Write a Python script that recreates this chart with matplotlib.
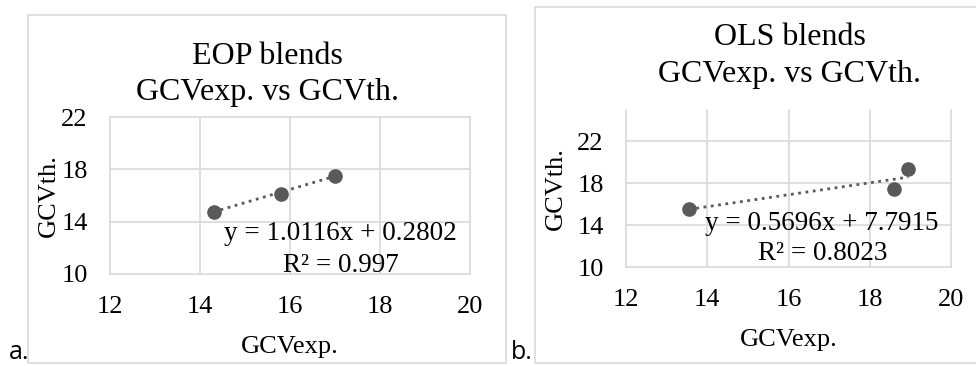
import numpy as np
import matplotlib
matplotlib.use('Agg')
import matplotlib.pyplot as plt
from matplotlib.patches import Rectangle

plt.rcParams['font.family'] = 'Liberation Serif'

W, H = 976, 366

# data
eop_exp = [14.3, 15.8, 17.0]
eop_th = [14.75, 16.15, 17.5]
eop_fit = [1.0116, 0.2802]
eop_r2 = '0.997'

ols_exp = [13.55, 18.6, 18.95]
ols_th = [15.55, 17.45, 19.35]
ols_fit = [0.5696, 7.7915]
ols_r2 = '0.8023'

x_ticks = [12, 14, 16, 18, 20]
y_ticks = [10, 14, 18, 22]

grey = '#595959'
grid = '#d9d9d9'

fig = plt.figure(figsize=(W / 100, H / 100), dpi=100)


def px(x, y, w=0, h=0):
    # pixel box (top-left origin) -> figure fraction
    return [x / W, 1 - (y + h) / H, w / W, h / H]


def panel(box, ylim, xs, ys, fit, r2, eq_xy, eq_gap, ylpad):
    ax = fig.add_axes(px(*box))
    ax.set_xlim(12, 20)
    ax.set_ylim(*ylim)
    ax.set_xticks(x_ticks)
    ax.set_yticks(y_ticks)
    ax.grid(True, color=grid, lw=1.2)
    ax.set_axisbelow(True)
    for s in ax.spines.values():
        s.set_visible(False)
    ax.tick_params(length=0, labelsize=19, pad=16)
    ax.set_xlabel('GCVexp.', fontsize=19, labelpad=13)
    ax.set_ylabel('GCVth.', fontsize=19, labelpad=ylpad)
    xl = np.array([min(xs), max(xs)])
    ax.plot(xl, fit[0] * xl + fit[1], ':', color=grey, lw=2)
    ax.plot(xs, ys, 'o', color=grey, ms=9.5, zorder=3)
    for g in ax.get_xgridlines() + ax.get_ygridlines():
        g.set_clip_on(False)
    step = eq_gap * (ylim[1] - ylim[0]) / box[3]
    ax.text(eq_xy[0], eq_xy[1], 'y = {0}x + {1}'.format(fit[0], fit[1]),
            fontsize=19.5, ha='center', va='baseline')
    ax.text(eq_xy[0], eq_xy[1] - step, 'R² = ' + r2,
            fontsize=19.5, ha='center', va='baseline')
    return ax


# outer frames
fig.patches.append(Rectangle((28 / W, 3 / H), 478 / W, 1 - 18 / H, transform=fig.transFigure,
                             fill=False, ec=grid, lw=1.2))
fig.patches.append(Rectangle((535 / W, 3 / H), 445 / W, 1 - 10 / H, transform=fig.transFigure,
                             fill=False, ec=grid, lw=1.2))

panel((110, 117, 360, 157), (10, 22), eop_exp, eop_th, eop_fit, eop_r2, (17.13, 12.6), 32, 1)
panel((626, 110, 325, 157), (10, 25), ols_exp, ols_th, ols_fit, ols_r2, (16.83, 13.53), 30, 7.5)

# titles
fig.text(267 / W, 1 - 64 / H, 'EOP blends', fontsize=23, ha='center', va='baseline')
fig.text(267 / W, 1 - 100 / H, 'GCVexp. vs GCVth.', fontsize=23, ha='center', va='baseline')
fig.text(790 / W, 1 - 45 / H, 'OLS blends', fontsize=23, ha='center', va='baseline')
fig.text(790 / W, 1 - 82 / H, 'GCVexp. vs GCVth.', fontsize=23, ha='center', va='baseline')

# panel letters
fig.text(9 / W, 1 / H, 'a.', fontsize=18, family='Open Sans', ha='left', va='bottom')
fig.text(511 / W, 1 / H, 'b.', fontsize=18, family='Open Sans', ha='left', va='bottom')

fig.savefig('out.png', dpi=100)
